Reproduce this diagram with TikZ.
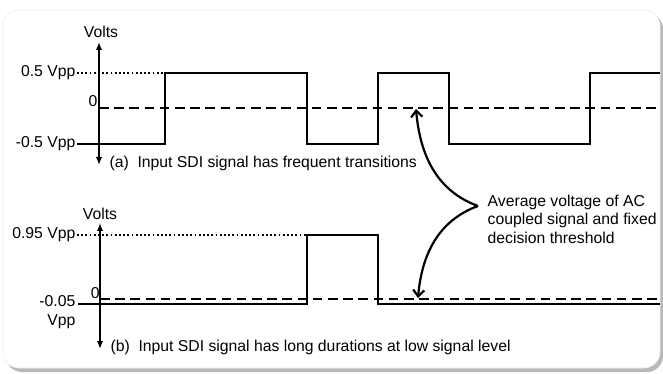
\documentclass[tikz,border=0pt]{standalone}
\usepackage{fontspec}
\setmainfont{Liberation Sans}
\usetikzlibrary{arrows.meta}
\begin{document}
\begin{tikzpicture}[
    signal/.style={line width=0.06cm},
    axis/.style={line width=0.07cm, {Latex[length=0.2cm,width=0.16cm]}-{Latex[length=0.2cm,width=0.16cm]}},
    threshold/.style={line width=0.06cm, dash pattern=on 0.24cm off 0.14cm},
    level/.style={line width=0.045cm, dash pattern=on 0.045cm off 0.06cm},
    pointer/.style={line width=0.055cm, -{Straight Barb[length=0.16cm,width=0.28cm,line width=0.055cm]}},
    lbl/.style={inner sep=1pt}
  ]
                    \useasboundingbox (0,0) rectangle (16.575000,9.325000);
                    % Frame with its shadow
                    \fill [gray!55, rounded corners=0.4cm] (0.150000,0.025000) rectangle (16.575000,9.000000);%
                    \filldraw [fill=white, draw=gray!15, rounded corners=0.4cm] (0.075000,0.125000) rectangle (16.500000,9.075000);%
                    {\fontsize{11.2}{13.2}\selectfont

                    % ---- (a) frequent transitions ----
                    % Drawing levels
                    \node (higha) [lbl, anchor=east] at (1.925000,7.500000) {0.5 Vpp};%
                    \node (lowa) [lbl, anchor=east] at (1.925000,5.725000) {-0.5 Vpp};%
                    \draw [level] (higha.east) -- (4.125000,7.500000);%
                    \draw [threshold] (2.475000,6.625000) -- (16.500000,6.625000);%
                    \node (zeroa) [lbl, anchor=south east] at (2.475000,6.625000) {0};%

                    % Drawing signal a
                    \draw [signal] (lowa.east) -- (4.125000,5.725000) -- (4.125000,7.500000)
                        -- (7.675000,7.500000) -- (7.675000,5.725000) -- (9.450000,5.725000)
                        -- (9.450000,7.500000) -- (11.225000,7.500000) -- (11.225000,5.725000)
                        -- (14.750000,5.725000) -- (14.750000,7.500000) -- (16.500000,7.500000);%

                    % Drawing axis a
                    \draw [axis] (2.475000,5.200000) -- (2.475000,8.275000);%
                    \node (voltsa) [lbl, anchor=south] at (2.525000,8.350000) {Volts};%
                    \node (capa) [lbl, anchor=west] at (2.700000,5.250000) {(a)\hspace{0.55em}Input SDI signal has frequent transitions};%

                    % ---- (b) long low durations ----
                    % Drawing levels
                    \node (highb) [lbl, anchor=east] at (1.925000,3.450000) {0.95 Vpp};%
                    \node (lowb) [lbl, anchor=north east, align=right] at (1.925000,1.975000) {-0.05\\Vpp};%
                    \draw [level] (highb.east) -- (7.675000,3.450000);%
                    \draw [threshold] (2.500000,1.850000) -- (16.500000,1.850000);%
                    \node (zerob) [lbl, anchor=south east, inner sep=0pt] at (2.500000,1.850000) {0};%

                    % Drawing signal b
                    \draw [signal] (1.950000,1.725000) -- (7.675000,1.725000) -- (7.675000,3.450000)
                        -- (9.450000,3.450000) -- (9.450000,1.725000) -- (16.500000,1.725000);%

                    % Drawing axis b
                    \draw [axis] (2.500000,0.600000) -- (2.500000,3.750000);%
                    \node (voltsb) [lbl, anchor=south] at (2.500000,3.800000) {Volts};%
                    \node (capb) [lbl, anchor=west] at (2.725000,0.650000) {(b)\hspace{0.55em}Input SDI signal has long durations at low signal level};%

                    % ---- Note on the threshold ----
                    \coordinate (fork) at (11.950000,4.175000);
                    \coordinate (tipa) at (10.400000,6.600000);
                    \coordinate (tipb) at (10.450000,1.875000);
                    \draw [pointer] (fork) to[out=160, in=-85] (tipa);%
                    \draw [pointer] (fork) to[out=200, in=85] (tipb);%
                    \node (note) [lbl, anchor=west, align=left] at (12.150000,3.850000)
                        {Average voltage of AC\\coupled signal and fixed\\decision threshold};%
                    }
\end{tikzpicture}
\end{document}
